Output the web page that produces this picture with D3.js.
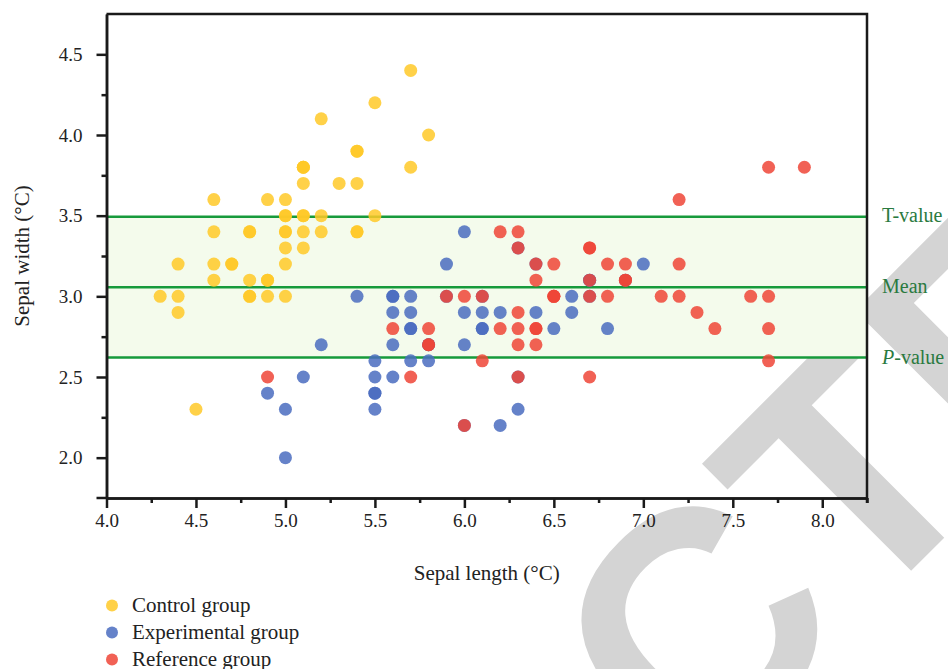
<!DOCTYPE html>
<html>
<head>
<meta charset="utf-8">
<script src="https://cdn.jsdelivr.net/npm/d3@7"></script>
<style>
  html, body { margin: 0; padding: 0; background: #fff; }
  svg { display: block; }
  .serif { font-family: 'Liberation Serif', 'DejaVu Serif', serif; }
</style>
</head>
<body>
<div id="chart"></div>
<script>
// Sepal length / width for the three groups (x, y pairs)
const controlLength = [5.1,4.9,4.7,4.6,5.0,5.4,4.6,5.0,4.4,4.9,5.4,4.8,4.8,4.3,5.8,5.7,5.4,5.1,5.7,5.1,5.4,5.1,4.6,5.1,4.8,5.0,5.0,5.2,5.2,4.7,4.8,5.4,5.2,5.5,4.9,5.0,5.5,4.9,4.4,5.1,5.0,4.5,4.4,5.0,5.1,4.8,5.1,4.6,5.3,5.0];
const controlWidth  = [3.5,3.0,3.2,3.1,3.6,3.9,3.4,3.4,2.9,3.1,3.7,3.4,3.0,3.0,4.0,4.4,3.9,3.5,3.8,3.8,3.4,3.7,3.6,3.3,3.4,3.0,3.4,3.5,3.4,3.2,3.1,3.4,4.1,4.2,3.1,3.2,3.5,3.6,3.0,3.4,3.5,2.3,3.2,3.5,3.8,3.0,3.8,3.2,3.7,3.3];

const experimentalLength = [7.0,6.4,6.9,5.5,6.5,5.7,6.3,4.9,6.6,5.2,5.0,5.9,6.0,6.1,5.6,6.7,5.6,5.8,6.2,5.6,5.9,6.1,6.3,6.1,6.4,6.6,6.8,6.7,6.0,5.7,5.5,5.5,5.8,6.0,5.4,6.0,6.7,6.3,5.6,5.5,5.5,6.1,5.8,5.0,5.6,5.7,5.7,6.2,5.1,5.7];
const experimentalWidth  = [3.2,3.2,3.1,2.3,2.8,2.8,3.3,2.4,2.9,2.7,2.0,3.0,2.2,2.9,2.9,3.1,3.0,2.7,2.2,2.5,3.2,2.8,2.5,2.8,2.9,3.0,2.8,3.0,2.9,2.6,2.4,2.4,2.7,2.7,3.0,3.4,3.1,2.3,3.0,2.5,2.6,3.0,2.6,2.3,2.7,3.0,2.9,2.9,2.5,2.8];

const referenceLength = [6.3,5.8,7.1,6.3,6.5,7.6,4.9,7.3,6.7,7.2,6.5,6.4,6.8,5.7,5.8,6.4,6.5,7.7,7.7,6.0,6.9,5.6,7.7,6.3,6.7,7.2,6.2,6.1,6.4,7.2,7.4,7.9,6.4,6.3,6.1,7.7,6.3,6.4,6.0,6.9,6.7,6.9,5.8,6.8,6.7,6.7,6.3,6.5,6.2,5.9];
const referenceWidth  = [3.3,2.7,3.0,2.9,3.0,3.0,2.5,2.9,2.5,3.6,3.2,2.7,3.0,2.5,2.8,3.2,3.0,3.8,2.6,2.2,3.2,2.8,2.8,2.7,3.3,3.2,2.8,3.0,2.8,3.0,2.8,3.8,2.8,2.8,2.6,3.0,3.4,3.1,3.0,3.1,3.1,3.1,2.7,3.2,3.3,3.0,2.5,3.0,3.4,3.0];

const groupNames  = ['Control group', 'Experimental group', 'Reference group'];
const groupColors = ['#ffc928', '#4a6cbf', '#ef4537'];

// Reference lines: upper (T-value), mean, lower (P-value)
const lineValues = [3.493, 3.057, 2.621];
const lineLabels = ['T-value', 'Mean', 'P-value'];

const xTicks = [4.0, 4.5, 5.0, 5.5, 6.0, 6.5, 7.0, 7.5, 8.0];
const yTicks = [2.0, 2.5, 3.0, 3.5, 4.0, 4.5];

const width = 948, height = 669;
const margin = { top: 14, right: 81, bottom: 171, left: 106.5 };

const svg = d3.select('#chart').append('svg')
  .attr('width', width)
  .attr('height', height);

// watermark sits behind everything
svg.append('text')
  .attr('transform', 'translate(-100,1582) rotate(-45)')
  .style('font-family', "'Liberation Sans', Arial, sans-serif")
  .attr('font-weight', 'bold')
  .attr('font-size', 325)
  .attr('fill', '#d4d4d4')
  .text('RETRACTED');

const x = d3.scaleLinear().domain([4.0, 8.25]).range([margin.left, width - margin.right]);
const y = d3.scaleLinear().domain([1.75, 4.75]).range([height - margin.bottom, margin.top]);

const x0 = x.range()[0], x1 = x.range()[1];
const y0 = y.range()[0], y1 = y.range()[1];

// shaded band between P-value and T-value
svg.append('rect')
  .attr('x', x0)
  .attr('y', y(lineValues[0]))
  .attr('width', x1 - x0)
  .attr('height', y(lineValues[2]) - y(lineValues[0]))
  .attr('fill', '#f4fbec');

svg.selectAll('.ref-line')
  .data(lineValues)
  .enter()
  .append('line')
  .attr('class', 'ref-line')
  .attr('x1', x0).attr('x2', x1)
  .attr('y1', d => y(d)).attr('y2', d => y(d))
  .attr('stroke', '#169a3b')
  .attr('stroke-width', 2.5);

// labels on the right of the frame
const refLabels = svg.selectAll('.ref-label')
  .data(lineValues)
  .enter()
  .append('text')
  .attr('class', 'ref-label serif')
  .attr('x', x1 + 15)
  .attr('y', (d, i) => y(d) + (i === 0 ? 5 : i === 1 ? 6 : 7))
  .attr('font-size', 20)
  .attr('fill', '#2a7a40');

refLabels.each(function(d, i) {
  const t = d3.select(this);
  if (lineLabels[i].startsWith('P-')) {
    t.append('tspan').attr('font-style', 'italic').text('P');
    t.append('tspan').text(lineLabels[i].slice(1));
  } else {
    t.text(lineLabels[i]);
  }
});

// points, drawn group by group
const groups = [
  { xs: controlLength, ys: controlWidth },
  { xs: experimentalLength, ys: experimentalWidth },
  { xs: referenceLength, ys: referenceWidth }
];

groups.forEach((g, gi) => {
  svg.append('g')
    .selectAll('circle')
    .data(g.xs.map((v, i) => [v, g.ys[i]]))
    .enter()
    .append('circle')
    .attr('cx', d => x(d[0]))
    .attr('cy', d => y(d[1]))
    .attr('r', 6.5)
    .attr('fill', groupColors[gi])
    .attr('fill-opacity', 0.85);
});

// axes
const axisColor = '#1a1a1a';

const xAxis = svg.append('g')
  .attr('transform', `translate(0,${y0})`)
  .call(d3.axisBottom(x).tickValues(xTicks).tickFormat(d3.format('.1f')).tickSize(10).tickSizeOuter(0));

const xMinor = svg.append('g')
  .attr('transform', `translate(0,${y0})`)
  .call(d3.axisBottom(x).tickValues(d3.range(4.25, 8.3, 0.5)).tickFormat('').tickSize(5).tickSizeOuter(0));

const yAxis = svg.append('g')
  .attr('transform', `translate(${x0},0)`)
  .call(d3.axisLeft(y).tickValues(yTicks).tickFormat(d3.format('.1f')).tickSize(10).tickSizeOuter(0));

const yMinor = svg.append('g')
  .attr('transform', `translate(${x0},0)`)
  .call(d3.axisLeft(y).tickValues(d3.range(2.25, 4.5, 0.5)).tickFormat('').tickSize(5).tickSizeOuter(0));

// the bottom-left corner tick at 1.75
svg.append('line')
  .attr('x1', x0 - 10).attr('x2', x0)
  .attr('y1', y0).attr('y2', y0)
  .attr('stroke', axisColor).attr('stroke-width', 2.5);

[xAxis, xMinor, yAxis, yMinor].forEach(a => {
  a.attr('font-family', null);
  a.select('.domain').attr('stroke', axisColor).attr('stroke-width', 2.5);
  a.selectAll('.tick line').attr('stroke', axisColor).attr('stroke-width', 2.5);
  a.selectAll('.tick text')
    .attr('class', 'serif')
    .attr('font-size', 19)
    .attr('fill', '#222');
});
xAxis.selectAll('.tick text').attr('dy', null).attr('y', 29);
yAxis.selectAll('.tick text').attr('x', -24).attr('dy', '0.33em');

// top and right edges of the frame
svg.append('path')
  .attr('d', `M${x0},${y1}H${x1}V${y0 + 5}`)
  .attr('fill', 'none')
  .attr('stroke', axisColor)
  .attr('stroke-width', 2.5);

// axis titles
svg.append('text')
  .attr('class', 'serif')
  .attr('x', (x0 + x1) / 2)
  .attr('y', 580)
  .attr('text-anchor', 'middle')
  .attr('font-size', 21)
  .attr('fill', '#222')
  .text('Sepal length (°C)');

svg.append('text')
  .attr('class', 'serif')
  .attr('transform', `translate(29,${(y0 + y1) / 2}) rotate(-90)`)
  .attr('text-anchor', 'middle')
  .attr('font-size', 21)
  .attr('fill', '#222')
  .text('Sepal width (°C)');

// legend (the last entry runs off the bottom edge, as in the source figure)
const legend = svg.append('g')
  .selectAll('g')
  .data(groupNames)
  .enter()
  .append('g')
  .attr('transform', (d, i) => `translate(112,${605.5 + i * 27})`);

legend.append('circle')
  .attr('r', 6)
  .attr('fill', (d, i) => groupColors[i])
  .attr('fill-opacity', 0.85);

legend.append('text')
  .attr('class', 'serif')
  .attr('x', 20)
  .attr('y', 6.5)
  .attr('font-size', 21)
  .attr('fill', '#222')
  .text(d => d);
</script>
</body>
</html>
